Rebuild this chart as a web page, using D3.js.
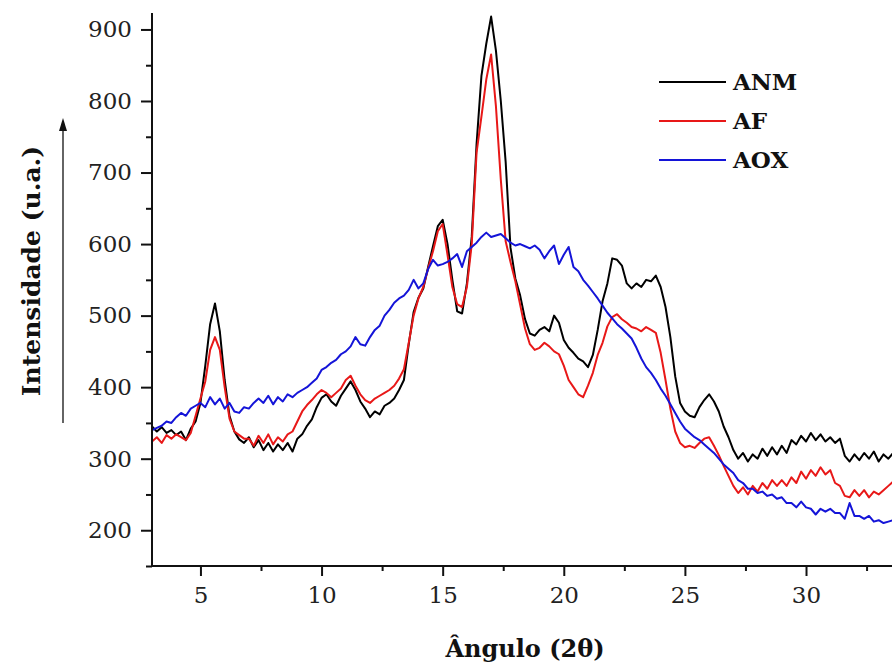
<!DOCTYPE html>
<html>
<head>
<meta charset="utf-8">
<script src="https://cdn.jsdelivr.net/npm/d3@7"></script>
<style>
  body { margin: 0; background: #fff; }
  svg { display: block; }
  .tick text { font-family: "DejaVu Serif", serif; font-size: 23px; fill: #222; }
  .title { font-family: "DejaVu Serif", serif; font-weight: bold; fill: #111; }
</style>
</head>
<body>
<div id="chart"></div>
<script>
const WIDTH = 892;
const HEIGHT = 665;

// measurement grid: 3.0 .. 33.6 deg, step 0.2
const angleStart = 3.0;
const angleStep = 0.2;

const seriesNames = ['ANM', 'AF', 'AOX'];
const seriesColors = ['#000000', '#e81818', '#1414d8'];

const anm = [
  345, 338, 344, 336, 340, 333, 338, 326, 342, 352,
  378, 430, 488, 517, 478, 410, 360, 338, 327, 322,
  330, 316, 326, 312, 322, 310, 320, 312, 322, 310,
  328, 334, 346, 355, 372, 385, 390, 380, 374, 388,
  398, 408, 396, 380, 370, 358, 366, 362, 374, 378,
  384, 396, 410, 460, 505, 525, 538, 568, 597, 625,
  634, 600, 550, 506, 503, 545, 610, 740, 835, 880,
  918, 870, 800, 715, 595, 552, 528, 495, 475, 472,
  480, 484, 478, 500, 490, 466, 455, 448, 440, 436,
  428, 445, 480, 520, 545, 580, 578, 570, 545, 538,
  545, 540, 550, 548, 556, 540, 512, 470, 415, 378,
  366, 360, 358, 372, 382, 390, 380, 366, 345, 330,
  312, 300, 308, 296, 306, 300, 314, 304, 316, 306,
  318, 308, 326, 320, 332, 324, 336, 326, 334, 324,
  330, 322, 328, 304, 296, 306, 298, 308, 300, 310,
  296, 306, 300, 308
];

const af = [
  324, 330, 322, 333, 328, 334, 330, 326, 336, 360,
  384, 408, 452, 470, 452, 400, 356, 338, 333, 328,
  328, 318, 332, 322, 334, 320, 330, 324, 334, 338,
  352, 366, 375, 382, 390, 396, 392, 386, 392, 398,
  410, 416, 402, 390, 382, 378, 384, 388, 392, 396,
  402, 412, 425, 462, 500, 524, 540, 566, 590, 618,
  628, 585, 540, 516, 512, 540, 600, 728, 778, 830,
  865, 792, 690, 604, 575, 548, 515, 482, 460, 452,
  455, 462, 457, 450, 446, 430, 410, 400, 390, 386,
  402, 420, 445, 462, 485, 498, 502, 495, 490, 484,
  482, 478, 484, 480, 476, 448, 410, 370, 338, 322,
  316, 318, 315, 322, 328, 330, 318, 305, 290, 276,
  262, 252, 260, 250, 262, 254, 266, 258, 270, 262,
  270, 262, 274, 266, 282, 272, 284, 276, 288, 278,
  284, 266, 262, 248, 246, 256, 248, 256, 246, 254,
  250, 256, 262, 268
];

const aox = [
  340, 343, 346, 352, 350, 358, 364, 360, 370, 374,
  378, 372, 386, 376, 384, 370, 378, 366, 364, 372,
  370, 378, 384, 378, 388, 376, 386, 380, 390, 386,
  392, 396, 400, 406, 412, 424, 428, 434, 438, 446,
  450, 457, 470, 460, 458, 470, 480, 486, 500, 508,
  518, 524, 528, 536, 550, 538, 545, 565, 578, 570,
  572, 575, 580, 586, 568, 590, 596, 602, 610, 616,
  610, 612, 614, 608, 602, 598, 600, 597, 594, 598,
  592, 580, 590, 598, 572, 585, 596, 568, 562, 550,
  542, 533, 524, 514, 504, 496, 488, 482, 475, 468,
  455, 440, 428, 420, 410, 398, 388, 376, 364, 352,
  342, 336, 330, 326, 320, 314, 308, 300, 292, 286,
  280, 270, 266, 258, 258, 252, 254, 248, 250, 244,
  246, 238, 238, 232, 240, 232, 230, 222, 230, 226,
  230, 224, 224, 216, 238, 220, 220, 216, 220, 212,
  214, 210, 212, 214
];

const xMajorTicks = [5, 10, 15, 20, 25, 30];
const xMinorTicks = [7.5, 12.5, 17.5, 22.5, 27.5, 32.5];
const yMajorTicks = [200, 300, 400, 500, 600, 700, 800, 900];
const yMinorTicks = [150, 250, 350, 450, 550, 650, 750, 850];

const svg = d3.select('#chart').append('svg')
  .attr('width', WIDTH)
  .attr('height', HEIGHT);

svg.append('rect').attr('width', WIDTH).attr('height', HEIGHT).attr('fill', '#fff');

const x = d3.scaleLinear().domain([3, 33.55]).range([152, 892]);
const y = d3.scaleLinear().domain([150, 923]).range([566, 13]);

svg.append('clipPath').attr('id', 'plot-clip')
  .append('rect')
  .attr('x', 152).attr('y', 0)
  .attr('width', WIDTH - 152).attr('height', 566);

const line = d3.line()
  .x((d, i) => x(angleStart + i * angleStep))
  .y(d => y(d));

const curves = svg.append('g').attr('clip-path', 'url(#plot-clip)');
[anm, af, aox].forEach((values, k) => {
  curves.append('path')
    .datum(values)
    .attr('fill', 'none')
    .attr('stroke', seriesColors[k])
    .attr('stroke-width', 2)
    .attr('stroke-linejoin', 'round')
    .attr('d', line);
});

// axes
const xAxis = svg.append('g')
  .attr('transform', 'translate(0,566)')
  .call(d3.axisBottom(x).tickValues(xMajorTicks).tickSize(10).tickPadding(11).tickFormat(d3.format('d')));
svg.append('g')
  .attr('transform', 'translate(0,566)')
  .call(d3.axisBottom(x).tickValues(xMinorTicks).tickSize(5).tickFormat(''))
  .call(g => g.select('.domain').remove());

const yAxis = svg.append('g')
  .attr('transform', 'translate(152,0)')
  .call(d3.axisLeft(y).tickValues(yMajorTicks).tickSize(11).tickPadding(9).tickFormat(d3.format('d')));
svg.append('g')
  .attr('transform', 'translate(152,0)')
  .call(d3.axisLeft(y).tickValues(yMinorTicks).tickSize(6).tickFormat(''))
  .call(g => g.select('.domain').remove());

svg.selectAll('.domain').attr('stroke', '#111').attr('stroke-width', 2);
svg.selectAll('.tick line').attr('stroke', '#111').attr('stroke-width', 2);
xAxis.select('.domain').attr('d', 'M152,0H892');
yAxis.select('.domain').attr('d', `M0,${y(150)}V13`);

// titles
svg.append('text')
  .attr('class', 'title')
  .attr('x', 525).attr('y', 657)
  .attr('text-anchor', 'middle')
  .attr('font-size', 24)
  .text('Ângulo (2θ)');

svg.append('text')
  .attr('class', 'title')
  .attr('transform', 'translate(40,271) rotate(-90)')
  .attr('text-anchor', 'middle')
  .attr('font-size', 25)
  .text('Intensidade (u.a.)');

// arrow next to the y title
svg.append('line')
  .attr('x1', 63).attr('y1', 423)
  .attr('x2', 63).attr('y2', 128)
  .attr('stroke', '#111').attr('stroke-width', 1.3);
svg.append('path')
  .attr('d', 'M63,118 L59,131 L67,131 Z')
  .attr('fill', '#111');

// legend
const legend = svg.append('g');
seriesNames.forEach((name, k) => {
  const ly = 82 + k * 39;
  legend.append('line')
    .attr('x1', 659).attr('x2', 726)
    .attr('y1', ly).attr('y2', ly)
    .attr('stroke', seriesColors[k]).attr('stroke-width', 2);
  legend.append('text')
    .attr('class', 'title')
    .attr('x', 733).attr('y', ly)
    .attr('dy', '0.36em')
    .attr('font-size', 23)
    .text(name);
});
</script>
</body>
</html>
